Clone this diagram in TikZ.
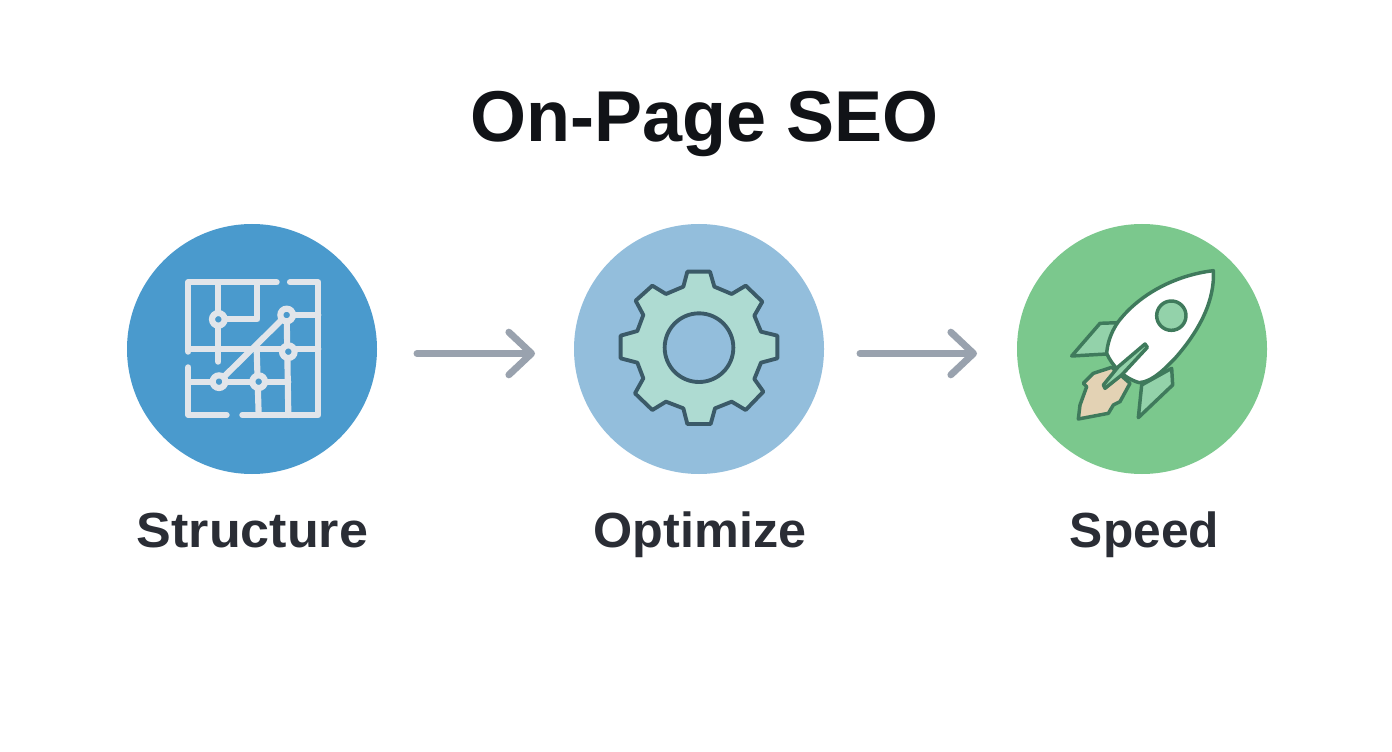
\documentclass[tikz,border=0pt]{standalone}
\usepackage{fontspec}
\setmainfont{Liberation Sans}
\usetikzlibrary{arrows.meta}
\definecolor{cA}{HTML}{4A9ACD}
\definecolor{cB}{HTML}{93BEDC}
\definecolor{cC}{HTML}{7BC88D}
\definecolor{wire}{HTML}{E1E5EA}
\definecolor{gearfill}{HTML}{AEDBD2}
\definecolor{gearline}{HTML}{3B5A68}
\definecolor{rocketline}{HTML}{3F7A5C}
\definecolor{finfill}{HTML}{93D2AA}
\definecolor{flame}{HTML}{E3D2B4}
\definecolor{arrowgrey}{HTML}{99A2AE}
\definecolor{labelink}{HTML}{2A2D35}
\definecolor{titleink}{HTML}{111317}
\tikzset{
  disc/.style={circle,minimum size=250*0.75pt,inner sep=0pt,draw=none},
  flowarrow/.style={draw=arrowgrey,line width=5.2pt,line cap=round,
    -{Straight Barb[length=17pt,width=32pt,line width=5.2pt,round]}},
  steplabel/.style={font=\fontsize{37pt}{40pt}\selectfont\bfseries,text=labelink,inner sep=0pt,anchor=base},
  wireline/.style={draw=wire,line width=4.6pt,line cap=round,line join=round},
  wirenode/.style={draw=wire,line width=4.6pt,fill=cA},
  gearstroke/.style={draw=gearline,line width=2.9pt,line join=round},
  rocketstroke/.style={draw=rocketline,line width=2.6pt,line join=round,line cap=round}
}
\begin{document}
\begin{tikzpicture}[x=0.75pt,y=-0.75pt]
\useasboundingbox (0,0) rectangle (1392,752);
\fill[white] (0,0) rectangle (1392,752);
\node[font=\fontsize{54pt}{60pt}\selectfont\bfseries,text=titleink,inner sep=0pt,anchor=base] (title) at (704.5,142) {On-Page SEO};
\node[disc,fill=cA] (c1) at (252,349) {};
\node[disc,fill=cB] (c2) at (699,349) {};
\node[disc,fill=cC] (c3) at (1142,349) {};
\coordinate (a1s) at (417,353.5);
\coordinate (a1e) at (535,353.5);
\coordinate (a2s) at (860,353.5);
\coordinate (a2e) at (977,353.5);
\draw[flowarrow] (a1s) -- (a1e);
\draw[flowarrow] (a2s) -- (a2e);
\node[steplabel] (l1) at (252.5,547) {\scalebox{1.055}[1]{Structure}};
\node[steplabel] (l2) at (700,547) {\scalebox{1.02}[1]{Optimize}};
\node[steplabel] (l3) at (1144.5,547) {\scalebox{1.007}[1]{Speed}};
% structure icon
\begin{scope}[shift={(160,250)},scale=1/3]
\draw[wireline] (350,97) -- (85,97) -- (85,305);
\draw[wireline] (390,97) -- (475,97) -- (475,495) -- (247,495);
\draw[wireline] (200,495) -- (85,495) -- (85,352);
\draw[wireline] (85,297) -- (475,297);
\draw[wireline] (175,97) -- (175,335);
\draw[wireline] (175,208) -- (292,208) -- (292,97);
\draw[wireline] (380,195) -- (475,195);
\draw[wireline] (380,195) -- (385,495);
\draw[wireline] (177,395) -- (380,195);
\draw[wireline] (85,395) -- (385,395);
\draw[wireline] (290,297) -- (296,495);
\foreach \p in {(175,208),(380,195),(385,305),(177,395),(296,395)}
  \draw[wirenode] \p circle (19);
\end{scope}
% gear
\begin{scope}[shift={(600,250)},scale=1/3]
\draw[gearstroke,fill=gearfill] (262,65)--(330,65)--(343,110)--(395,132)--(437,107)--(487,155)--(463,197)--(483,245)--(532,257)--(532,325)--(483,338)--(463,387)--(490,425)--(437,480)--(395,455)--(345,475)--(332,522)--(262,522)--(250,475)--(198,455)--(157,480)--(105,430)--(130,385)--(112,338)--(62,325)--(62,257)--(112,243)--(130,195)--(107,152)--(157,107)--(198,132)--(250,110)--cycle;
\draw[gearstroke,fill=cB] (297,293) circle (103);
\end{scope}
% rocket
\begin{scope}[shift={(1050,250)},scale=1/3]
\draw[rocketstroke,fill=finfill] (205,218)--(150,220)--(65,318)--(170,312)--cycle;
\draw[rocketstroke,fill=finfill] (365,355)--(368,405)--(265,503)--(275,405)--cycle;
\draw[rocketstroke,fill=flame] (185,352)--(130,370)--(100,400)--(110,410)--(90,465)--(85,507)--(175,490)--(190,465)--(210,455)--(240,400)--cycle;
\draw[rocketstroke,fill=white] (490,62) .. controls (380,75) and (270,130) .. (205,215) .. controls (180,250) and (172,285) .. (170,310) .. controls (185,345) and (220,385) .. (268,398) .. controls (310,395) and (350,350) .. (375,325) .. controls (450,240) and (495,150) .. (490,62) -- cycle;
\draw[rocketstroke,fill=finfill] (364,197) circle (44);
\draw[rocketstroke,fill=finfill] (285,282)--(292,292)--(215,375)--(165,415)--(160,405)--(205,350)--cycle;
\end{scope}
\end{tikzpicture}
\end{document}
